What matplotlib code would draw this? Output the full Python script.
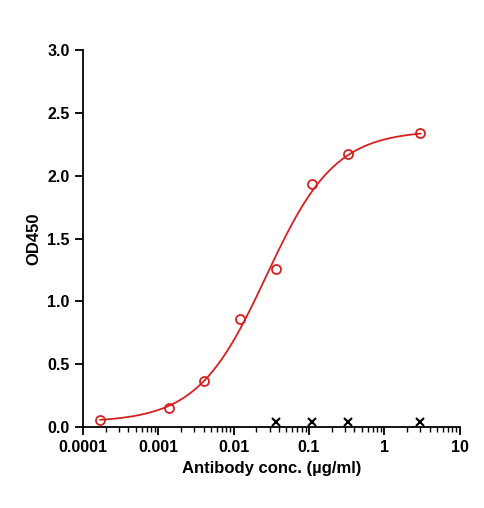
import numpy as np
import matplotlib
matplotlib.use("Agg")
import matplotlib.pyplot as plt
from matplotlib.ticker import LogLocator, FixedLocator, FixedFormatter

conc = [0.00017, 0.00137, 0.0041, 0.0123, 0.037, 0.111, 0.333, 3.0]
od = [0.06, 0.15, 0.37, 0.86, 1.26, 1.93, 2.17, 2.34]
neg_conc = [0.037, 0.111, 0.333, 3.0]
neg_od = [0.04, 0.04, 0.04, 0.04]
fit_bottom, fit_top, fit_ec50, fit_hill = 0.04, 2.32, 0.027, 0.95

plt.rcParams['font.family'] = ['Liberation Sans', 'DejaVu Sans']
fig = plt.figure(figsize=(4.85, 5.08), dpi=100)
ax = fig.add_axes([0.171, 0.159, 0.777, 0.743])

xs = np.logspace(np.log10(conc[0]), np.log10(conc[-1]), 300)
ys = fit_bottom + fit_top / (1 + (fit_ec50 / xs) ** fit_hill)
ax.plot(xs, ys, color='#d62020', lw=1.3)
ax.plot(conc, od, 'o', mfc='none', mec='#d62020', mew=1.3, ms=6.5)
ax.plot(neg_conc, neg_od, 'x', color='black', mew=1.5, ms=6)

ax.set_xscale('log')
ax.set_xlim(0.0001, 10)
ax.set_ylim(0, 3.0)
ticks = [0.0001, 0.001, 0.01, 0.1, 1, 10]
ax.xaxis.set_major_locator(FixedLocator(ticks))
ax.xaxis.set_major_formatter(FixedFormatter(['0.0001', '0.001', '0.01', '0.1', '1', '10']))
ax.xaxis.set_minor_locator(LogLocator(base=10, subs=np.arange(2, 10)))
ax.set_yticks(np.arange(0, 3.01, 0.5))
ax.set_yticklabels([f'{v:.1f}' for v in np.arange(0, 3.01, 0.5)])
for s in ['top', 'right']:
    ax.spines[s].set_visible(False)
for s in ['left', 'bottom']:
    ax.spines[s].set_linewidth(1.3)
ax.tick_params(which='major', direction='out', length=6, width=1.3, labelsize=11.5)
ax.tick_params(which='minor', direction='out', length=3.5, width=1)
for lab in ax.get_xticklabels() + ax.get_yticklabels():
    lab.set_fontweight('bold')
ax.set_xlabel('Antibody conc. (µg/ml)', fontsize=12, fontweight='bold')
ax.set_ylabel('OD450', fontsize=12, fontweight='bold')
fig.savefig('out.png', dpi=100)
